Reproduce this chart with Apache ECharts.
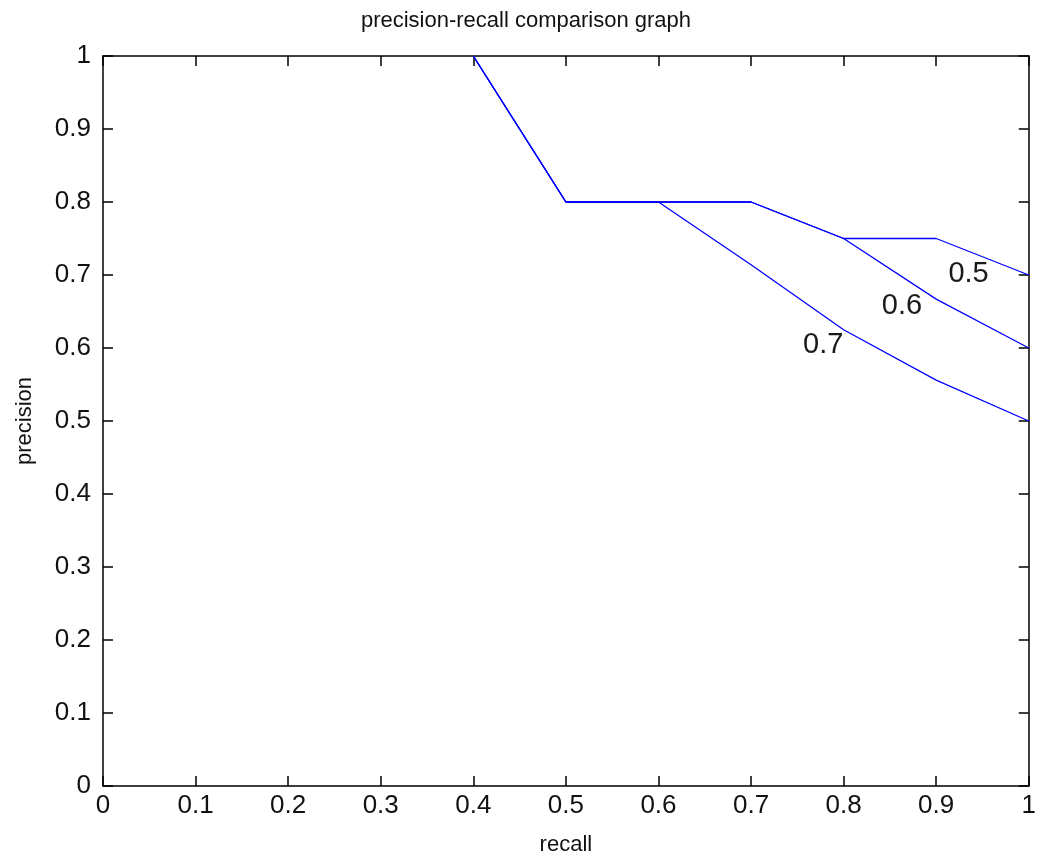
<!DOCTYPE html>
<html>
<head>
<meta charset="utf-8">
<script src="https://cdn.jsdelivr.net/npm/echarts@6/dist/echarts.min.js"></script>
<style>
  html, body { margin: 0; padding: 0; background: #fff; overflow: hidden; }
  #chart { width: 1039px; height: 867px; }
</style>
</head>
<body>
<div id="chart"></div>
<script>
// Recall levels shared by all three curves
const recall = [0.4, 0.5, 0.6, 0.7, 0.8, 0.9, 1.0];

// Precision at each recall level, one curve per threshold
const precision05 = [1.0, 0.8, 0.8, 0.8, 0.75, 0.75, 0.7];
const precision06 = [1.0, 0.8, 0.8, 0.8, 0.75, 0.667, 0.6];
const precision07 = [1.0, 0.8, 0.8, 0.714, 0.625, 0.556, 0.5];

const curveNames = ['0.5', '0.6', '0.7'];
const curveValues = [precision05, precision06, precision07];

// Where each curve's name is written inside the plot (data coordinates)
const namePlacement = [[0.935, 0.701], [0.863, 0.657], [0.778, 0.604]];

const FONT = 'Liberation Sans';
const INK = '#111';

function fmt(v) {
  return String(Math.round(v * 10) / 10);
}

// Boxed axes with inward ticks on all four sides
const axisLine = { show: true, onZero: false, lineStyle: { color: '#000', width: 1.5 } };
const axisTick = { show: true, inside: true, length: 10, lineStyle: { color: '#000', width: 1.5 } };

const chart = echarts.init(document.getElementById('chart'), null, { renderer: 'canvas' });

chart.setOption({
  animation: false,
  backgroundColor: '#fff',
  title: {
    text: 'precision-recall comparison graph',
    left: 521,
    top: 5,
    textAlign: 'center',
    textStyle: { fontFamily: FONT, fontSize: 22, fontWeight: 'normal', color: INK }
  },
  grid: { left: 103, right: 6, top: 56, bottom: 81, containLabel: false },
  xAxis: [
    {
      type: 'value', min: 0, max: 1, interval: 0.1, position: 'bottom',
      name: 'recall', nameLocation: 'middle', nameGap: 48,
      nameTextStyle: { fontFamily: FONT, fontSize: 22, color: INK },
      axisLine, axisTick,
      axisLabel: {
        fontFamily: FONT, fontSize: 26, color: INK, margin: 7,
        formatter: v => fmt(v)
      },
      splitLine: { show: false }
    },
    {
      type: 'value', min: 0, max: 1, interval: 0.1, position: 'top',
      axisLine, axisTick, axisLabel: { show: false }, splitLine: { show: false }
    }
  ],
  yAxis: [
    {
      type: 'value', min: 0, max: 1, interval: 0.1, position: 'left',
      name: 'precision', nameLocation: 'middle', nameGap: 67, nameRotate: 90,
      nameTextStyle: { fontFamily: FONT, fontSize: 22, color: INK },
      axisLine, axisTick,
      axisLabel: {
        fontFamily: FONT, fontSize: 26, color: INK, margin: 12,
        formatter: v => fmt(v)
      },
      splitLine: { show: false }
    },
    {
      type: 'value', min: 0, max: 1, interval: 0.1, position: 'right',
      axisLine, axisTick, axisLabel: { show: false }, splitLine: { show: false }
    }
  ],
  series: curveValues.map((vals, i) => ({
    name: curveNames[i],
    type: 'line',
    xAxisIndex: 0,
    yAxisIndex: 0,
    data: recall.map((r, j) => [r, vals[j]]),
    showSymbol: false,
    symbol: 'none',
    lineStyle: { color: '#0000ff', width: 1.3 },
    z: 3 - i,
    markPoint: {
      symbol: 'circle',
      symbolSize: 1,
      itemStyle: { color: 'rgba(0,0,0,0)' },
      label: {
        show: true, position: 'inside',
        formatter: curveNames[i],
        fontFamily: FONT, fontSize: 29, color: '#1a1a1a'
      },
      data: [{ coord: namePlacement[i] }]
    }
  }))
});
</script>
</body>
</html>
